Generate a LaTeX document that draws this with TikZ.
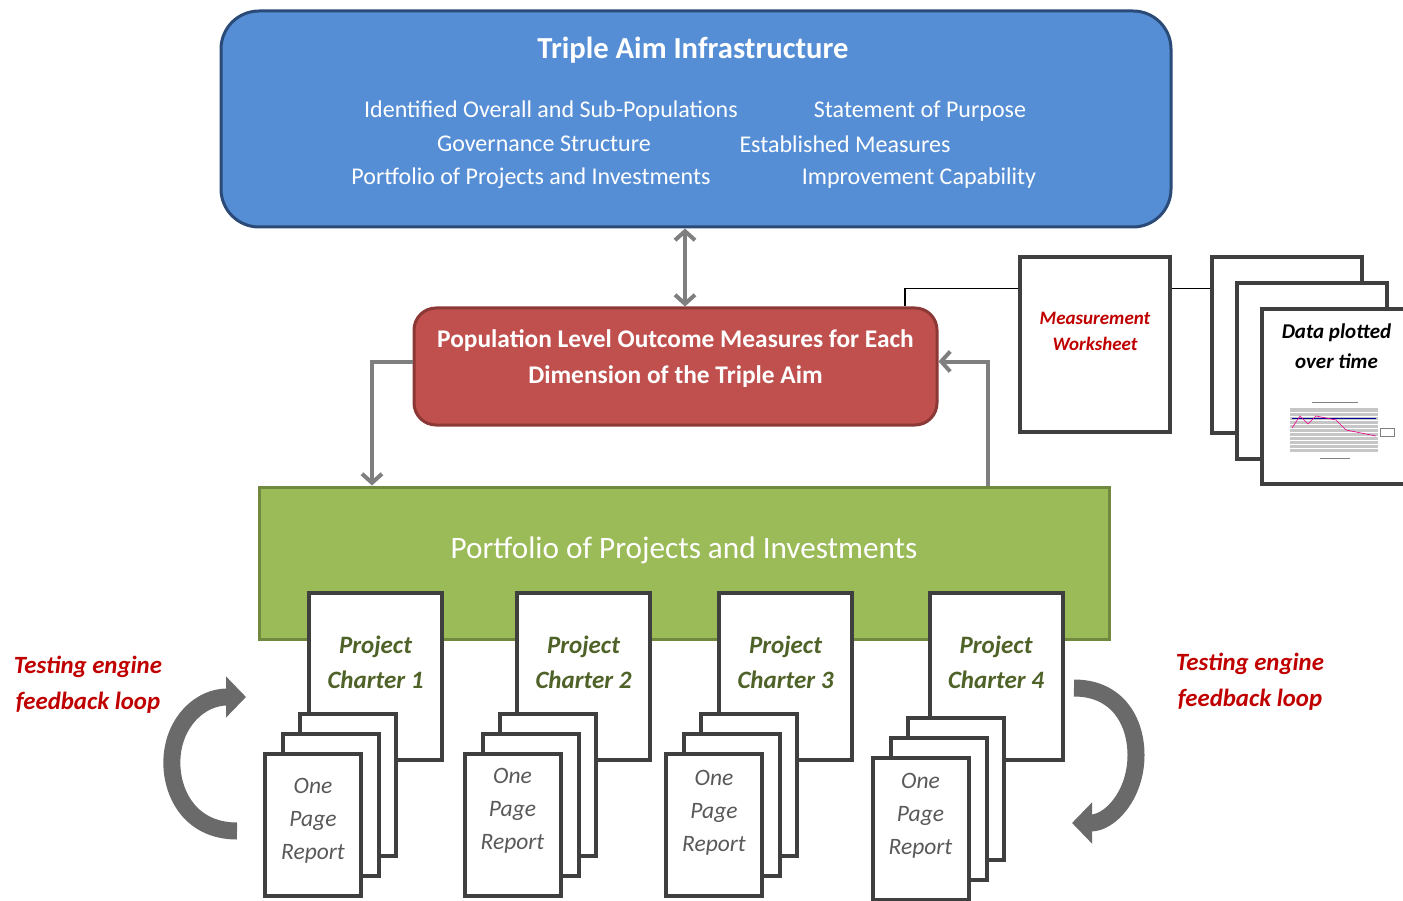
\documentclass[tikz,border=0pt]{standalone}
\usepackage{fontspec}
\setmainfont{Carlito}
\usepackage{tikz}
\usetikzlibrary{positioning,arrows.meta,shadows,calc}
\definecolor{aimblue}{HTML}{558ED5}
\definecolor{aimline}{HTML}{2A4A78}
\definecolor{outred}{HTML}{C0504D}
\definecolor{outline}{HTML}{8C3836}
\definecolor{portgreen}{HTML}{9BBB59}
\definecolor{portline}{HTML}{71893F}
\definecolor{conngray}{HTML}{7F7F7F}
\definecolor{loopgray}{HTML}{6A6A6A}
\definecolor{pageline}{HTML}{3F3F3F}
\definecolor{loopred}{HTML}{C00000}
\definecolor{charterol}{HTML}{4F6228}
\definecolor{reportgray}{HTML}{595959}

\begin{document}
\begin{tikzpicture}[x=1pt,y=-1pt,
    every node/.style={inner sep=0pt},
    infrabox/.style={draw=aimline,fill=aimblue,line width=3pt,rounded corners=38pt,
      minimum width=950pt,minimum height=216pt},
    outbox/.style={draw=outline,fill=outred,line width=3pt,rounded corners=22pt,
      minimum width=523pt,minimum height=117pt},
    portbox/.style={draw=portline,fill=portgreen,line width=3pt,
      minimum width=850pt,minimum height=152pt},
    page/.style={draw=pageline,fill=white,line width=4pt,
      drop shadow={opacity=.25,shadow xshift=2pt,shadow yshift=-2pt}},
    charter/.style={page,minimum width=133pt,minimum height=167pt},
    report/.style={page,minimum width=96pt,minimum height=142pt},
    sheet/.style={page,minimum width=150pt,minimum height=175pt},
    conn/.style={draw=conngray,line width=4pt,>={Straight Barb[length=9pt,width=20pt]}},
    link/.style={draw=black,line width=1.3pt},
    loop/.style={draw=loopgray,line width=17pt,-{Triangle[length=20pt,width=40pt]}},
    wtxt/.style={text=white,align=center},
    chtxt/.style={text=charterol,align=center,font=\fontsize{25}{35}\selectfont\bfseries\itshape},
    reptxt/.style={text=reportgray,align=center,font=\fontsize{23.5}{33}\selectfont\itshape},
    looptxt/.style={text=loopred,align=center,font=\fontsize{24.8}{36}\selectfont\bfseries\itshape}]
 \useasboundingbox (0,0) rectangle (1403,901);

 % infrastructure
 \node[infrabox] (infra) at (696,119) {};
 \node[wtxt,font=\fontsize{30.6}{36}\selectfont\bfseries] (title) at (693,50) {Triple Aim Infrastructure};
 \begin{scope}[every node/.append style={wtxt,font=\fontsize{24}{28}\selectfont}]
  \node (it1) at (551,111) {Identified Overall and Sub-Populations};
  \node (it2) at (920,111) {Statement of Purpose};
  \node (it3) at (544,144) {Governance Structure};
  \node (it4) at (845,144) {Established Measures};
  \node (it5) at (531,178) {Portfolio of Projects and Investments};
  \node (it6) at (919,178) {Improvement Capability};
 \end{scope}

 % outcome measures
 \node[outbox] (outcome) at (675.5,366.5) {};
 \node[wtxt,font=\fontsize{25.4}{36}\selectfont\bfseries] (otitle) at ([yshift=8pt]outcome.center)
  {Population Level Outcome Measures for Each\\Dimension of the Triple Aim};

 % portfolio
 \node[portbox] (portfolio) at (684,563) {};
 \node[wtxt,font=\fontsize{31.2}{36}\selectfont,below=51pt of portfolio.north] (ptitle)
  {Portfolio of Projects and Investments};

 % connectors
 \coordinate (midx) at (685,0);
 \coordinate (leftx) at (372,0);
 \coordinate (rightx) at (988,0);
 \coordinate (linkx) at (905,0);
 \draw[conn,<->] (infra.south -| midx) -- (outcome.north -| midx);
 \draw[conn,->] ([yshift=5pt]outcome.west) -| (portfolio.north -| leftx);
 \draw[conn,->] (portfolio.north -| rightx) |- ([yshift=5pt]outcome.east);

 % measurement and plots
 \node[sheet] (worksheet) at (1095,344.5) {};
 \node[text=loopred,align=center,font=\fontsize{19}{26}\selectfont\bfseries\itshape]
  at ([yshift=13pt]worksheet.center) {Measurement\\Worksheet};
 \node[sheet] (plotA) at (1286.5,345) {};
 \node[sheet] (plotB) at (1311.5,371) {};
 \node[sheet] (plotC) at (1336.5,396.5) {};
 \node[align=center,font=\fontsize{21}{30}\selectfont\bfseries\itshape]
  at ([yshift=50pt]plotC.center) {Data plotted\\over time};
 \coordinate (wsout) at ([yshift=56pt]worksheet.east);
 \draw[link] (outcome.north -| linkx) |- ([yshift=56pt]worksheet.west);
 \draw[link] (wsout) -- (wsout -| plotA.west);
 % little chart
 \fill[gray!45] (1290,408) rectangle (1378,452);
 \foreach \yy in {412,416,...,448} \draw[white,line width=.4pt] (1290,\yy) -- (1378,\yy);
 \draw[gray,line width=.6pt] (1312,402) -- (1358,402) (1320,458) -- (1350,458);
 \draw[blue!60!black,line width=.6pt] (1292,418) -- (1376,418);
 \draw[magenta,line width=.6pt] (1292,428) -- (1300,416) -- (1308,424) -- (1316,416)
  -- (1326,418) -- (1336,420) -- (1346,430) -- (1356,432) -- (1366,434) -- (1376,436);
 \draw[gray,line width=.4pt] (1380,428) rectangle (1394,436);

 % charters and one page reports
 \foreach \n/\cx/\rx/\ry/\ty in {1/375.5/313/825/4.5,2/583.5/512.5/825/14,
     3/785.5/714/825/12,4/996/920.5/828.5/12.5} {
  \node[charter] (ch\n) at (\cx,676) {};
  \node[chtxt] at ([yshift=14pt]ch\n.center) {Project\\Charter \n};
  \coordinate (rp\n) at (\rx,\ry);
  \node[report] (rb\n) at ($(rp\n)+(35,-40)$) {};
  \node[report] (rm\n) at ($(rp\n)+(18,-20)$) {};
  \node[report] (rf\n) at (rp\n) {};
  \node[reptxt] at ([yshift=\ty pt]rf\n.center) {One\\Page\\Report};
 }

 % feedback loops
 \draw[loop] (237,831) .. controls (188,831) and (170,790) .. (172,758)
  .. controls (174,722) and (200,697) .. (246,697);
 \draw[loop] (1074,688) .. controls (1118,688) and (1136,722) .. (1136,755)
  .. controls (1136,795) and (1110,823) .. (1072,823);
 \node[looptxt] (loopL) at (88,685) {Testing engine\\feedback loop};
 \node[looptxt] (loopR) at (1250,682) {Testing engine\\feedback loop};
\end{tikzpicture}
\end{document}
